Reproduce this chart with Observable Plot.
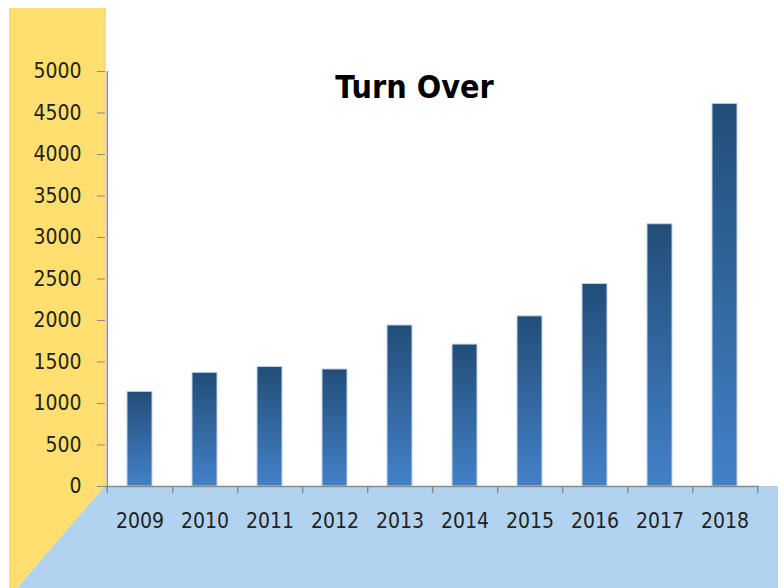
<!DOCTYPE html>
<html><head><meta charset="utf-8">
<script src="https://cdn.jsdelivr.net/npm/d3@7"></script>
<script src="https://cdn.jsdelivr.net/npm/@observablehq/plot@0.6"></script>
<style>
html,body{margin:0;padding:0;background:#fff;}
#chart{width:784px;height:588px;position:relative;}
</style></head><body><div id="chart"></div>
<script>
const years = ["2009","2010","2011","2012","2013","2014","2015","2016","2017","2018"];
const turnover = [1140, 1370, 1440, 1410, 1940, 1710, 2050, 2440, 3160, 4610];
const yTicks = [0, 500, 1000, 1500, 2000, 2500, 3000, 3500, 4000, 4500, 5000];
const title = "Turn Over";

const data = years.map((year, i) => ({year, value: turnover[i]}));

const W = 784, H = 588, mL = 105, mR = 25, mT = 71, mB = 102;
const step = (W - mL - mR) / years.length;
const font = '"DejaVu Sans Condensed", "DejaVu Sans", sans-serif';
const axisColor = "#8a8a8a";

const svg = Plot.plot({
  width: W, height: H,
  marginLeft: mL, marginRight: mR, marginTop: mT, marginBottom: mB,
  style: {fontFamily: font, fontSize: "21px", color: "#222", background: "transparent", fontStretch: "condensed"},
  x: {domain: years, paddingInner: 0.618, paddingOuter: 0.309, label: null},
  y: {domain: [0, 5000], label: null},
  marks: [
    Plot.barY(data, {x: "year", y: "value", fill: "url(#barGrad)", stroke: "#c3d3e6", strokeWidth: 1}),
    Plot.ruleY([0], {stroke: axisColor, strokeWidth: 1.5}),
    Plot.ruleX([years[0]], {x: d => d, dx: -step / 2, y1: -85, y2: 5000, stroke: axisColor, strokeWidth: 1.5}),
    Plot.ruleX(years, {x: d => d, dx: step / 2, y1: -85, y2: 0, stroke: axisColor, strokeWidth: 1.5}),
    Plot.axisY({ticks: yTicks, tickSize: 8, tickPadding: 16, stroke: axisColor, label: null, tickFormat: d => String(d)}),
    Plot.axisX({tickSize: 0, tickPadding: 27, label: null}),
    Plot.text([title], {frameAnchor: "top", dx: -18, dy: 4, fontSize: 32, fontWeight: "bold", fill: "#000"})
  ]
});

const sel = d3.select(svg);
const bg = sel.insert("g", ":first-child");
bg.append("polygon").attr("points", "9,8 106,8 106,486 17,588 9,588").attr("fill", "#ffdf6f");
bg.append("polygon").attr("points", "105,486 778,486 778,588 17,588").attr("fill", "#b2d3ef");
const defs = sel.insert("defs", ":first-child");
const g = defs.append("linearGradient").attr("id", "barGrad").attr("x1", 0).attr("y1", 0).attr("x2", 0).attr("y2", 1);
g.append("stop").attr("offset", "0%").attr("stop-color", "#224d78");
g.append("stop").attr("offset", "100%").attr("stop-color", "#4381c8");

document.getElementById("chart").appendChild(svg);
</script>
</body></html>
